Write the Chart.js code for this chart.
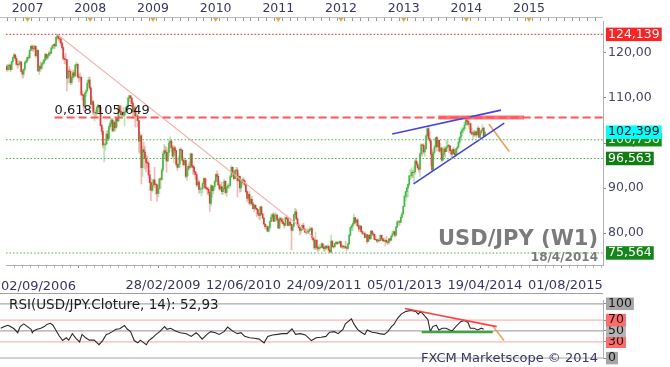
<!DOCTYPE html>
<html><head><meta charset="utf-8">
<script src="https://cdn.jsdelivr.net/npm/chart.js@4.4.1/dist/chart.umd.min.js"></script>
<style>
html,body{margin:0;padding:0;background:#fff;}
#wrap{position:relative;width:670px;height:367px;overflow:hidden;background:#fff;}
#c1{position:absolute;left:0;top:0;}
#c2{position:absolute;left:0;top:292px;}
</style></head><body>
<div id="wrap"><canvas id="c1" width="670" height="292"></canvas><canvas id="c2" width="670" height="75"></canvas></div>
<script>
// ---------- DATA (weekly USD/JPY candles, week 0 = 02/09/2006) ----------
const firstOpen = 117.0;
const closes = [
116.3,117.2,117.3,116.3,118.1,119.0,119.6,118.8,117.5,117.4,117.6,118.0,115.9,115.3,116.4,117.9,118.2,119.0,
118.9,120.6,121.5,121.0,120.9,121.5,119.4,120.6,116.0,117.0,116.6,117.6,117.8,118.4,119.7,118.9,119.5,120.0,119.9,121.1,121.6,121.9,121.6,123.5,123.8,123.2,123.1,122.2,121.2,118.8,118.6,118.5,114.4,116.0,115.9,113.4,114.6,115.6,114.9,117.3,117.5,114.7,114.6,114.6,110.8,110.6,108.2,111.1,111.6,113.3,114.0,112.2,
108.6,109.2,106.8,106.8,106.6,107.9,108.2,107.9,103.9,102.6,99.6,99.6,99.8,102.0,101.0,103.6,104.3,105.1,102.7,104.6,103.4,105.5,104.9,108.2,107.1,106.3,106.3,106.2,106.9,107.8,108.1,110.0,110.5,110.0,108.8,106.9,107.8,106.0,106.0,105.0,100.4,101.6,94.5,98.5,98.0,96.6,95.7,95.5,92.9,91.2,89.5,90.6,
91.8,90.8,90.7,88.8,89.9,92.0,91.9,94.0,97.6,98.3,97.9,96.0,97.9,100.0,100.4,99.0,97.1,98.9,98.3,95.3,94.6,95.3,98.6,98.4,96.2,95.2,96.1,92.6,94.2,94.8,94.6,97.6,94.9,94.6,93.6,93.0,90.7,91.3,89.7,89.8,89.8,91.0,92.1,90.1,89.9,89.7,88.9,86.6,90.5,89.4,90.3,91.4,
93.0,92.6,90.7,89.8,90.3,89.2,89.9,91.5,89.0,90.2,90.5,90.6,92.5,94.6,93.2,92.1,93.9,94.0,91.6,92.6,90.0,91.2,91.8,91.6,90.8,89.2,87.7,88.6,86.6,87.5,86.5,85.4,86.2,85.5,85.2,84.3,83.9,85.8,84.2,83.3,82.0,81.4,81.4,80.4,81.3,82.5,83.5,84.1,82.6,83.9,84.0,82.9,81.1,
83.2,82.9,82.5,82.1,81.7,83.4,83.2,81.7,82.4,81.9,80.6,81.5,84.1,84.7,83.1,81.8,81.2,80.6,80.8,81.7,80.8,80.2,80.3,80.0,80.4,80.8,81.0,79.1,78.5,76.7,78.4,76.8,76.5,76.7,76.8,77.6,76.8,76.5,77.1,76.7,77.0,76.2,75.8,78.2,77.0,76.9,77.7,77.9,77.7,77.8,78.1,76.9,
77.1,76.9,77.0,76.7,76.6,77.6,79.5,81.2,81.6,82.1,83.4,82.4,82.9,81.6,80.9,81.5,80.3,79.9,79.9,79.0,79.6,78.1,79.5,78.7,80.4,79.8,79.7,78.6,78.5,78.2,78.4,78.3,79.5,78.7,78.3,78.2,78.4,78.0,77.9,78.7,78.4,79.3,79.8,80.3,79.5,81.3,82.4,82.5,82.4,83.5,84.2,85.9,
88.1,89.2,90.0,90.8,92.7,92.7,93.5,93.4,93.6,96.0,95.3,94.5,94.2,97.6,99.6,99.5,98.0,98.7,101.6,103.2,101.0,100.5,97.5,94.0,97.9,99.1,101.2,99.2,100.6,98.2,98.9,96.2,97.5,98.7,98.1,99.1,99.4,99.3,98.3,97.5,98.6,97.7,97.4,98.7,99.1,100.2,101.3,102.4,102.9,103.2,104.0,105.1,
104.8,104.2,104.3,102.3,102.0,102.3,101.8,102.5,101.8,103.3,101.3,102.3,102.8,103.3,101.6,102.4];
const highs = [
117.4,117.4,117.6,117.5,118.2,119.2,119.9,119.7,119.3,118.4,118.2,118.3,118.1,116.3,116.5,118.2,118.5,119.1,
119.6,120.9,121.6,121.8,121.7,121.8,121.6,121.1,120.7,117.3,118.0,118.0,118.4,118.7,120.0,119.9,119.7,120.3,120.5,121.2,121.8,122.0,122.2,123.7,124.14,124.0,123.5,123.3,122.4,121.6,119.4,119.9,118.6,116.5,117.0,116.4,115.0,116.2,116.2,117.5,117.9,117.6,115.3,115.6,114.9,111.5,110.8,111.3,112.0,113.9,114.6,114.7,
112.4,110.3,109.5,108.5,107.4,108.2,108.6,108.4,108.0,104.2,103.4,100.1,100.9,102.6,102.8,103.9,104.8,105.5,105.4,104.9,105.0,105.6,105.6,108.4,108.4,108.3,106.9,107.9,107.0,108.1,108.5,110.1,110.7,110.5,110.1,109.3,108.2,108.2,107.2,106.4,105.1,102.3,101.9,99.3,100.2,99.2,97.3,97.1,96.0,93.9,92.2,91.3,
92.0,94.6,91.2,90.9,90.7,92.2,92.4,94.4,98.1,99.7,99.3,99.0,98.5,100.6,101.4,100.6,99.5,99.4,99.3,98.5,96.5,97.1,98.8,98.9,98.4,96.8,96.6,96.3,94.5,95.3,95.8,97.8,97.5,95.0,95.0,93.6,93.4,92.3,91.7,90.4,90.0,91.4,92.2,92.3,92.0,90.2,90.1,89.2,90.8,90.4,90.5,91.8,
93.2,93.8,93.2,91.6,90.8,91.3,90.2,92.0,91.6,90.3,90.9,90.9,92.8,95.0,94.7,93.7,94.1,94.6,94.5,93.3,92.7,91.5,92.1,92.3,91.8,91.0,89.4,88.9,89.2,87.8,88.2,86.8,86.4,86.0,85.6,85.3,84.4,85.9,86.0,84.4,83.4,82.1,81.9,81.6,81.6,82.8,84.0,84.4,84.5,84.5,84.4,84.1,83.3,
83.6,83.5,83.3,83.2,82.2,83.6,84.0,83.3,82.6,83.3,82.0,81.9,84.2,85.5,85.3,83.5,82.2,81.5,81.1,82.0,82.2,81.1,80.6,80.9,80.8,81.4,81.2,81.3,79.3,78.6,80.2,78.5,77.1,77.4,77.2,77.9,77.6,76.8,77.2,77.1,77.4,77.3,76.4,79.55,78.3,77.3,77.8,78.2,78.1,78.1,78.3,78.2,
77.4,77.2,77.2,78.2,76.9,77.8,79.7,81.3,81.9,82.6,84.2,83.5,83.1,83.2,81.8,81.8,81.7,80.5,80.2,80.2,79.8,79.7,79.6,79.7,80.6,80.6,80.2,79.8,79.3,78.6,78.7,78.7,79.6,79.3,78.8,78.9,78.5,79.2,78.2,78.8,78.8,79.4,80.4,80.7,80.4,81.5,82.8,82.8,82.8,84.0,84.6,86.0,
88.4,89.3,90.2,91.0,92.8,94.1,94.5,94.0,94.8,96.6,96.7,95.8,94.9,97.8,99.9,99.7,99.9,99.2,101.9,103.3,103.7,102.5,100.8,98.7,98.3,99.5,101.3,101.5,100.9,100.7,99.9,99.0,98.4,99.2,99.1,100.6,100.5,99.7,99.5,98.4,98.7,99.0,98.4,98.8,99.2,100.4,101.4,102.6,103.4,103.5,104.6,105.3,
105.44,105.1,104.9,104.5,103.4,102.6,102.8,102.8,102.6,103.8,103.3,102.7,103.0,104.1,103.5,102.5];
const lows = [
115.9,116.0,116.4,115.8,116.3,117.5,118.9,118.3,117.2,116.6,117.0,117.3,115.8,114.4,114.6,116.0,117.6,117.9,
118.4,118.9,120.5,120.5,120.3,120.8,119.0,119.2,115.9,115.2,115.9,116.3,117.2,117.6,118.3,118.5,118.5,119.2,119.4,119.9,120.9,120.9,121.0,121.5,123.0,122.6,122.3,121.7,120.8,118.4,117.6,117.5,111.6,113.3,114.6,113.0,112.9,114.0,114.5,114.9,116.7,114.4,113.6,114.0,110.5,109.5,107.2,107.8,110.3,111.3,112.4,111.9,
108.4,107.6,106.3,104.9,105.7,106.2,106.8,106.9,103.7,101.8,98.9,95.8,98.4,99.5,100.5,100.6,103.0,103.7,102.4,102.8,102.6,103.1,103.6,104.8,106.7,106.1,105.4,105.9,103.8,106.4,107.1,107.8,109.2,108.7,107.9,105.4,105.9,103.5,104.9,103.6,97.9,97.5,90.9,92.6,96.5,94.2,93.6,94.6,92.3,89.5,87.2,89.1,
89.4,90.1,88.6,87.1,88.0,88.7,89.9,91.7,93.5,96.8,96.4,93.5,95.9,97.0,98.8,98.0,96.6,95.6,97.7,94.9,93.9,94.5,94.6,96.7,95.9,94.9,94.9,92.2,91.7,92.7,94.0,94.4,94.5,93.1,92.9,91.9,90.3,90.2,88.8,88.9,88.2,88.9,90.2,89.8,89.6,88.6,88.3,84.8,86.0,87.9,88.7,89.7,
90.7,91.5,90.6,89.5,89.4,88.6,88.6,89.7,88.6,88.1,89.9,89.9,90.2,92.3,92.6,91.8,92.4,93.2,88.0,91.3,89.1,89.2,90.5,90.9,90.4,88.8,86.9,87.3,86.3,86.1,86.2,85.3,84.7,85.1,83.6,83.9,83.1,82.9,84.0,83.2,81.8,80.9,80.8,80.4,80.2,80.9,82.5,82.9,82.5,82.6,83.2,82.7,81.0,
80.9,82.4,82.1,81.9,81.1,81.6,82.9,81.5,81.6,81.6,76.3,80.4,81.4,83.6,82.9,81.6,81.0,79.6,80.0,80.6,80.7,80.1,79.7,79.9,80.0,80.2,80.5,78.5,78.2,76.4,76.3,76.3,75.9,76.1,76.5,76.7,76.5,75.9,76.1,76.3,76.5,75.8,75.6,75.56,76.8,76.6,76.9,77.4,77.4,77.5,77.7,76.8,
76.6,76.6,76.5,76.6,76.0,76.4,77.5,79.3,80.5,80.6,81.9,82.0,81.6,81.4,80.3,80.6,80.1,79.6,79.6,78.9,78.9,77.7,78.3,78.6,78.8,79.4,79.3,78.5,78.4,77.9,77.9,78.1,78.3,78.4,78.2,78.2,77.1,77.7,77.4,77.6,78.0,78.3,79.0,79.6,79.1,79.3,81.2,81.7,81.7,82.3,83.3,84.3,
85.8,87.1,87.8,88.1,90.5,91.9,92.2,92.3,90.9,93.0,94.8,94.1,93.5,92.6,97.2,97.1,97.6,97.1,98.8,101.5,100.7,100.0,95.0,93.8,94.1,97.5,98.9,98.2,99.0,98.0,97.6,95.8,96.0,97.0,96.8,98.1,98.8,97.8,98.2,96.9,96.9,97.5,97.0,97.2,97.6,98.8,99.9,101.0,101.6,102.2,102.7,103.9,
104.0,103.8,103.0,102.1,101.8,100.8,101.4,101.6,101.3,101.8,101.2,101.0,101.8,102.7,101.3,101.4];

// RSI(14) (week index, value)
const rsiWeeks = [0,3,6,8,11,14,16,19,22,25,26,27,30,33,36,38,41,43,45,48,51,54,56,59,62,65,67,70,73,77,81,84,87,89,92,95,98,102,104,107,110,113,115,120,122,125,128,131,135,137,140,144,148,153,157,161,163,166,170,173,177,180,184,187,190,192,195,198,201,205,209,213,217,220,224,228,232,236,240,243,247,251,256,260,264,268,271,275,278,282,284,289,291,294,297,300,302,306,309,312,316,319,322,324,327,330,334,338,342,344,346,349,352,354,356,359,361,364,367,370,372,375,379,382,385,387,390,393,396,398];
const rsiValues = [55,58,60.5,58,54,46.7,58,63,58,53,46.7,50,53,55,58,62,64,60.5,53,41.5,32.3,37.4,33,45,36.4,29.7,43.6,37.4,33,33,24.6,32.3,43.6,45,48.7,53,54,60,54,48.7,32.3,28,33,24.6,32.3,37.4,43.6,48.7,58,53,55,50,46.7,45,40,46.7,42.6,35,43.6,48.7,46.7,43.6,48.7,57,51.8,48.7,45,46.7,40,37.4,36.4,35,28,40,42.6,43.6,45,45,54,43.6,45,42.6,32.3,37.4,38.5,40,47.7,48.7,45,52.8,63,72.3,63,52.8,47.7,43.6,51.8,47.7,46.7,45,43.6,48.7,58,62,73.3,81,86,87.7,86,81,86,78.5,70.8,48.7,58,60.5,51.8,55,55,51.8,50,58,67,69.2,65.6,55,55,51.8,55,52.93];
const rsiLastLabel = 'RSI(USD/JPY.Cloture, 14): 52,93';

// Axis labels
const yearLabels = ['2007','2008','2009','2010','2011','2012','2013','2014','2015'];
const dateLabels = ['02/09/2006','28/02/2009','12/06/2010','24/09/2011','05/01/2013','19/04/2014','01/08/2015'];
const priceTicks = [80, 90, 100, 110, 120];
const boxedLevels = [75.564, 96.563, 100.736, 102.399, 124.139];
const rsiTicks = [0, 30, 50, 70, 100];

// Drawn levels / trendlines (week index, price)
const highLevel = 124.139;
const fibLevel = 105.649, fibStartWeek = 39.8, fibLabel = '0,618 105,649';
const supportLevels = [100.736, 96.563, 75.564];
const fibZoneWeeks = [359.2, 430.6];
const trendWeeks = [42, 257], trendValues = [124.14, 78.7];
const wedgeTopWeeks = [320.8, 411.4], wedgeTopValues = [102.0, 107.3];
const wedgeBotWeeks = [338.6, 414.1], wedgeBotValues = [90.9, 104.4];
const projWeeks = [401.3, 418.2], projValues = [104.2, 98.1];
const rsiTrendWeeks = [333.1, 408.7], rsiTrendValues = [91.2, 58];
const rsiSupportWeeks = [346.9, 405.4], rsiSupportValue = 48;
const rsiProjWeeks = [405.9, 414.7], rsiProjValues = [58, 32.3];

// ---------- STYLE ----------
const FONT = '"DejaVu Sans", Verdana, sans-serif';
const NAVY = '#36366c';
const X_MIN = -0.6, X_MAX = 496.3;
const Y_MIN = 72.89, Y_MAX = 127.11;
const R_MIN = -1.2, R_MAX = 106.5;
const WEEK_MS = 7 * 864e5, T0 = Date.UTC(2006, 8, 2);
const weekOfDate = (y, m, d) => (Date.UTC(y, m - 1, d) - T0) / WEEK_MS;
const weekOfLabel = s => { const p = s.split('/').map(Number); return weekOfDate(p[2], p[1], p[0]); };

// top axis ticks (years + 8 subdivisions)
const yearWeeks = yearLabels.map(y => weekOfDate(+y, 1, 1));
const topTicks = [];
for (let yr = 2006; yr <= 2016; yr++) {
  const a = weekOfDate(yr, 1, 1), b = weekOfDate(yr + 1, 1, 1);
  for (let k = 0; k < 8; k++) {
    const v = a + (b - a) * k / 8;
    const label = (k === 0 && yearLabels.includes(String(yr))) ? String(yr) : '';
    if (v > X_MIN && v < X_MAX) topTicks.push({ v, label, major: k === 0 });
  }
}
// bottom axis ticks
const dateWeeks = dateLabels.map(weekOfLabel);
const step = dateWeeks[2] - dateWeeks[1];
const bottomTicks = [];
for (let m = dateWeeks[1] - 2 * step; m < X_MAX; m += step) {
  for (let k = 0; k < 10; k++) {
    const v = m + step * k / 10;
    if (v <= X_MIN + 1 || v >= X_MAX) continue;
    let label = '';
    if (k === 0) { const j = dateWeeks.findIndex(w => Math.abs(w - v) < 0.5); if (j > 0) label = dateLabels[j]; }
    bottomTicks.push({ v, label, major: k === 0 });
  }
}

// ---------- DATASETS ----------
const opens = closes.map((c, i) => (i === 0 ? firstOpen : closes[i - 1]));
const isUp = closes.map((c, i) => c >= opens[i]);
const wickData = closes.map((c, i) => ({ x: i, y: [Math.min(lows[i], opens[i], c), Math.max(highs[i], opens[i], c)] }));
const bodyData = closes.map((c, i) => ({ x: i, y: [opens[i], c] }));
const seg = (ws, vs) => ws.map((w, i) => ({ x: w, y: vs[i] }));
const lineDs = (data, color, width, dash, order) => ({
  type: 'line', data, borderColor: color, borderWidth: width, borderDash: dash || [],
  pointRadius: 0, fill: false, tension: 0, order: order == null ? 0 : order, clip: 0
});

const priceDatasets = [
  lineDs(seg([X_MIN, X_MAX], [highLevel, highLevel]), '#ff4a4a', 1.2, [1.5, 2]),
  ...supportLevels.map(v => lineDs(seg([X_MIN, X_MAX], [v, v]), '#46b446', 1.1, [1.5, 2])),
  lineDs(seg(fibZoneWeeks, [fibLevel, fibLevel]), 'rgba(255,70,70,0.75)', 4, [], 1),
  lineDs(seg([fibStartWeek, X_MAX], [fibLevel, fibLevel]), '#ff5555', 2, [8, 4]),
  lineDs(seg(trendWeeks, trendValues), '#ffa8a8', 1.2, []),
  lineDs(seg(wedgeTopWeeks, wedgeTopValues), '#4444e8', 1.6, []),
  lineDs(seg(wedgeBotWeeks, wedgeBotValues), '#4444e8', 1.6, []),
  lineDs(seg(projWeeks, projValues), '#f5a050', 1.6, []),
  { type: 'bar', data: bodyData, grouped: false, barThickness: 1, order: 5,
    backgroundColor: isUp.map(u => (u ? '#3cbf3c' : '#e43a36')), borderWidth: 0 },
  { type: 'bar', data: wickData, grouped: false, barThickness: 1, order: 6,
    backgroundColor: isUp.map(u => (u ? 'rgba(80,195,80,0.4)' : 'rgba(236,80,76,0.4)')), borderWidth: 0 }
];

const boxStyle = {
  75.564: ['#16861a', '#ffffff'], 96.563: ['#0f7d12', '#ffffff'], 100.736: ['#148a18', '#e8ffe8'],
  102.399: ['#00ffff', '#111111'], 124.139: ['#ff2222', '#ffffff']
};
const fmtPrice = v => (priceTicks.includes(v) ? v.toFixed(2) : v.toFixed(3)).replace('.', ',');

const pricePlugin = {
  id: 'priceOverlay',
  afterDraw(chart) {
    const { ctx, scales: { x, y, xTop } } = chart;
    ctx.save();
    ctx.strokeStyle = '#bdbdbd'; ctx.lineWidth = 1;
    ctx.beginPath(); ctx.moveTo(0, 17.5); ctx.lineTo(x.right, 17.5); ctx.stroke();
    ctx.fillStyle = '#f4a236';
    yearWeeks.forEach(w => {
      const px = xTop.getPixelForValue(w);
      ctx.beginPath(); ctx.moveTo(px - 2.5, 18); ctx.lineTo(px + 2.5, 18); ctx.lineTo(px, 22); ctx.closePath(); ctx.fill();
    });
    ctx.textBaseline = 'alphabetic';
    ctx.font = '13px ' + FONT; ctx.fillStyle = '#1e1e1e'; ctx.textAlign = 'left';
    ctx.fillText(fibLabel, x.getPixelForValue(fibStartWeek), y.getPixelForValue(fibLevel) - 3.5);
    ctx.fillStyle = '#7b7b7b'; ctx.textAlign = 'right';
    ctx.font = 'bold 21px ' + FONT; ctx.fillText('USD/JPY (W1)', 598, 245);
    ctx.font = 'bold 12px ' + FONT; ctx.fillText('18/4/2014', 598, 261);
    ctx.font = '13px ' + FONT; ctx.fillStyle = NAVY; ctx.textAlign = 'left';
    ctx.fillText(dateLabels[0], 1, 290);
    ctx.restore();
  }
};

new Chart(document.getElementById('c1'), {
  type: 'bar',
  data: { datasets: priceDatasets },
  plugins: [pricePlugin],
  options: {
    responsive: false, animation: false, devicePixelRatio: 1,
    layout: { padding: 0, autoPadding: false },
    plugins: { legend: { display: false }, tooltip: { enabled: false } },
    scales: {
      x: {
        type: 'linear', position: 'bottom', min: X_MIN, max: X_MAX, bounds: 'data', offset: false,
        afterBuildTicks: s => { s.ticks = bottomTicks.map(t => ({ value: t.v })); },
        afterFit: s => { s.height = 27; },
        ticks: { autoSkip: false, maxRotation: 0, minRotation: 0, padding: 10, color: NAVY,
          font: { family: FONT, size: 13 }, callback: (v, i) => bottomTicks[i].label },
        grid: { drawOnChartArea: false, drawTicks: true, tickLength: 3,
          tickColor: c => (c.index != null && bottomTicks[c.index] && bottomTicks[c.index].major ? '#888' : '#bbb') },
        border: { display: true, color: '#b0b0b0' }
      },
      xTop: {
        type: 'linear', position: 'top', min: X_MIN, max: X_MAX, bounds: 'data', offset: false,
        afterBuildTicks: s => { s.ticks = topTicks.map(t => ({ value: t.v })); },
        afterFit: s => { s.height = 21; },
        ticks: { autoSkip: false, maxRotation: 0, minRotation: 0, padding: 2, color: NAVY,
          font: { family: FONT, size: 12.5 }, callback: (v, i) => topTicks[i].label },
        grid: { drawOnChartArea: false, drawTicks: true, tickLength: 3, tickColor: '#9a9a9a' },
        border: { display: false }
      },
      y: {
        type: 'linear', position: 'right', min: Y_MIN, max: Y_MAX, bounds: 'data',
        afterBuildTicks: s => { s.ticks = priceTicks.concat(boxedLevels).map(v => ({ value: v })); },
        afterFit: s => { s.width = 67; },
        ticks: {
          autoSkip: false, padding: 2, font: { family: FONT, size: 12.5, lineHeight: 1.08 },
          color: c => (boxStyle[c.tick.value] ? boxStyle[c.tick.value][1] : '#45456e'),
          showLabelBackdrop: true, backdropPadding: { left: 2, right: 2, top: 0, bottom: 0 },
          backdropColor: c => (boxStyle[c.tick.value] ? boxStyle[c.tick.value][0] : 'rgba(0,0,0,0)'),
          callback: v => fmtPrice(v)
        },
        grid: { drawOnChartArea: false, drawTicks: true, tickLength: 3,
          tickColor: c => (c.tick && priceTicks.includes(c.tick.value) ? '#888' : 'rgba(0,0,0,0)') },
        border: { display: true, color: '#b0b0b0' }
      }
    }
  }
});

// ---------- RSI PANE ----------
const rsiLevelStyle = { 100: '#a9a9a9', 70: '#ffb4b4', 50: '#a9a9a9', 30: '#ffb4b4', 0: '#a9a9a9' };
const rsiBox = { 100: '#a6a6a6', 70: '#ff6a6a', 50: '#b4b4b4', 30: '#ff6a6a', 0: '#a6a6a6' };
const rsiDatasets = [
  lineDs(seg(rsiTrendWeeks, rsiTrendValues), '#ff4040', 1.6, []),
  lineDs(seg(rsiSupportWeeks, [rsiSupportValue, rsiSupportValue]), '#3aa83a', 2.2, []),
  lineDs(seg(rsiProjWeeks, rsiProjValues), '#f5a050', 1.5, []),
  lineDs(seg(rsiWeeks, rsiValues), '#2a2a2a', 1.1, [], 2),
  ...rsiTicks.map(v => lineDs(seg([X_MIN, X_MAX], [v, v]), rsiLevelStyle[v], 1.3, [], 5))
];
const rsiPlugin = {
  id: 'rsiOverlay',
  afterDraw(chart) {
    const { ctx } = chart;
    ctx.save();
    ctx.strokeStyle = '#a0a0a0'; ctx.lineWidth = 1;
    ctx.beginPath(); ctx.moveTo(0, 1.5); ctx.lineTo(chart.chartArea.right, 1.5); ctx.stroke();
    ctx.textBaseline = 'alphabetic'; ctx.textAlign = 'left';
    ctx.font = '13.5px ' + FONT; ctx.fillStyle = '#1e1e1e';
    ctx.fillText(rsiLastLabel, 9, 16.5);
    ctx.font = '13px ' + FONT; ctx.fillStyle = NAVY; ctx.textAlign = 'right';
    ctx.fillText('FXCM Marketscope \u00A9 2014', 598, 70);
    ctx.restore();
  }
};
new Chart(document.getElementById('c2'), {
  type: 'line',
  data: { datasets: rsiDatasets },
  plugins: [rsiPlugin],
  options: {
    responsive: false, animation: false, devicePixelRatio: 1,
    layout: { padding: { top: 2, bottom: 3, left: 0, right: 0 }, autoPadding: false },
    plugins: { legend: { display: false }, tooltip: { enabled: false } },
    scales: {
      x: { type: 'linear', min: X_MIN, max: X_MAX, display: false, bounds: 'data' },
      y: {
        type: 'linear', position: 'right', min: R_MIN, max: R_MAX, bounds: 'data',
        afterBuildTicks: s => { s.ticks = rsiTicks.map(v => ({ value: v })); },
        afterFit: s => { s.width = 67; },
        ticks: { autoSkip: false, padding: 2, color: '#161616', font: { family: FONT, size: 12.5, lineHeight: 1.0 },
          showLabelBackdrop: true, backdropPadding: { left: 2, right: 2, top: 0, bottom: 0 },
          backdropColor: c => rsiBox[c.tick.value], callback: v => String(v) },
        grid: { drawOnChartArea: false, drawTicks: true, tickLength: 3, tickColor: '#888' },
        border: { display: true, color: '#b0b0b0' }
      }
    }
  }
});
</script>
</body></html>
